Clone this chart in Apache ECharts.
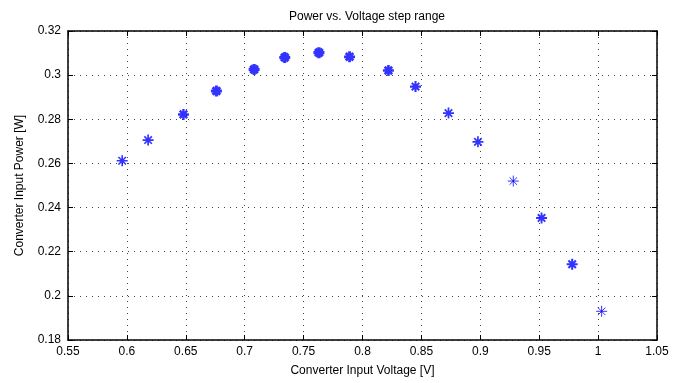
<!DOCTYPE html>
<html>
<head>
<meta charset="utf-8">
<script src="https://cdn.jsdelivr.net/npm/echarts@6/dist/echarts.min.js"></script>
<style>html,body{margin:0;padding:0;background:#fff;}#c{width:685px;height:383px;}</style>
</head>
<body>
<div id="c"></div>
<script>
const voltage = [0.596, 0.618, 0.648, 0.676, 0.708, 0.734, 0.763, 0.789, 0.822, 0.845, 0.873, 0.898, 0.928, 0.952, 0.978, 1.003];
const power   = [0.2612, 0.2706, 0.2822, 0.2928, 0.3026, 0.3080, 0.3102, 0.3083, 0.3021, 0.2948, 0.2828, 0.2698, 0.2520, 0.2353, 0.2143, 0.1930];
const markerWeights = [1.6, 1.7, 2.4, 3, 3.2, 3.2, 3.4, 2.8, 2.6, 2.1, 1.7, 1.7, 1, 1.9, 2.1, 1];
const xTicks = [0.55, 0.6, 0.65, 0.7, 0.75, 0.8, 0.85, 0.9, 0.95, 1, 1.05];
const yTicks = [0.18, 0.2, 0.22, 0.24, 0.26, 0.28, 0.3, 0.32];

const FONT = '"Liberation Sans", Arial, Helvetica, sans-serif';
const asterisk = 'path://M5,0L5,10M0,5L10,5M1.6,1.6L8.4,8.4M1.6,8.4L8.4,1.6';
const xMin = xTicks[0], xMax = xTicks[xTicks.length - 1], xInt = 0.05;
const yMin = yTicks[0], yMax = yTicks[yTicks.length - 1], yInt = 0.02;
const fmtX = v => String(parseFloat(v.toFixed(2)));
const fmtY = v => String(parseFloat(v.toFixed(2)));

const chart = echarts.init(document.getElementById('c'), null, {renderer: 'canvas'});
const lineStyle = {color: '#000', width: 1.5};
const tickStyle = {color: '#000', width: 1};
chart.setOption({
  animation: false,
  backgroundColor: '#fff',
  title: {
    text: 'Power vs. Voltage step range',
    left: 362, top: 6, textAlign: 'center',
    textStyle: {fontFamily: FONT, fontSize: 12, fontWeight: 'normal', color: '#000'}
  },
  grid: {left: 68, right: 28, top: 31, bottom: 43, show: false},
  xAxis: [{
    type: 'value', min: xMin, max: xMax, interval: xInt, position: 'bottom',
    name: 'Converter Input Voltage [V]', nameLocation: 'middle', nameGap: 25,
    nameTextStyle: {fontFamily: FONT, fontSize: 12, color: '#000'},
    axisLine: {show: true, onZero: false, lineStyle: lineStyle},
    axisTick: {show: true, inside: true, length: 5, lineStyle: tickStyle},
    axisLabel: {fontFamily: FONT, fontSize: 12, color: '#000', margin: 6, formatter: fmtX},
    splitLine: {show: true, lineStyle: {color: '#444', width: 1, type: [1, 5]}}
  }, {
    type: 'value', min: xMin, max: xMax, interval: xInt, position: 'top',
    axisLine: {show: true, onZero: false, lineStyle: lineStyle},
    axisTick: {show: true, inside: true, length: 5, lineStyle: tickStyle},
    axisLabel: {show: false}, splitLine: {show: false}
  }],
  yAxis: [{
    type: 'value', min: yMin, max: yMax, interval: yInt, position: 'left',
    name: 'Converter Input Power [W]', nameLocation: 'middle', nameGap: 42, nameRotate: 90,
    nameTextStyle: {fontFamily: FONT, fontSize: 12, color: '#000'},
    axisLine: {show: true, onZero: false, lineStyle: lineStyle},
    axisTick: {show: true, inside: true, length: 5, lineStyle: tickStyle},
    axisLabel: {fontFamily: FONT, fontSize: 12, color: '#000', margin: 7, formatter: fmtY},
    splitLine: {show: true, lineStyle: {color: '#444', width: 1, type: [1, 5]}}
  }, {
    type: 'value', min: yMin, max: yMax, interval: yInt, position: 'right',
    axisLine: {show: true, onZero: false, lineStyle: lineStyle},
    axisTick: {show: true, inside: true, length: 5, lineStyle: tickStyle},
    axisLabel: {show: false}, splitLine: {show: false}
  }],
  series: [{
    type: 'scatter',
    xAxisIndex: 0, yAxisIndex: 0,
    symbol: asterisk,
    symbolSize: 11,
    data: voltage.map((v, i) => ({
      value: [v, power[i]],
      itemStyle: {color: 'rgba(0,0,0,0)', borderColor: '#0000ff', borderWidth: markerWeights[i]}
    })),
    z: 5
  }]
});
</script>
</body>
</html>
